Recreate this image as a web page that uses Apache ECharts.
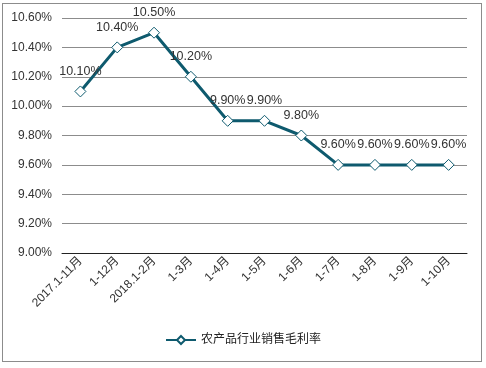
<!DOCTYPE html>
<html><head><meta charset="utf-8">
<script src="https://cdn.jsdelivr.net/npm/echarts@6/dist/echarts.min.js"></script>
<style>html,body{margin:0;padding:0;background:#fff;}#frame{position:absolute;left:2px;top:3px;width:478px;height:357px;border:1px solid #8c8c8c;}#c{position:absolute;left:0;top:0;width:486px;height:368px;}</style>
</head><body><div id="frame"></div><div id="c"></div>
<script>
const categories = ['2017.1-11月','1-12月','2018.1-2月','1-3月','1-4月','1-5月','1-6月','1-7月','1-8月','1-9月','1-10月'];
const seriesName = '农产品行业销售毛利率';
const values = [10.10, 10.40, 10.50, 10.20, 9.90, 9.90, 9.80, 9.60, 9.60, 9.60, 9.60];
const yMin = 9.0, yMax = 10.6, yStep = 0.2;

const chart = echarts.init(document.getElementById('c'), null, {renderer:'canvas'});
const font = 'Arial, "Liberation Sans", "Noto Sans CJK SC", sans-serif';
chart.setOption({
  animation:false,
  backgroundColor:'transparent',
  grid:{left:62, right:19, top:18, bottom:115, containLabel:false},
  legend:{
    data:[seriesName],
    bottom:17, left:'center',
    itemWidth:30, itemHeight:10,
    textStyle:{fontFamily:font, fontSize:12, color:'#222'}
  },
  xAxis:{
    type:'category', data:categories, boundaryGap:true,
    axisLine:{lineStyle:{color:'#222', width:1}},
    axisTick:{show:false},
    axisLabel:{rotate:45, fontFamily:font, fontSize:12, color:'#333', margin:6, interval:0}
  },
  yAxis:{
    type:'value', min:yMin, max:yMax, interval:yStep,
    axisLine:{show:false}, axisTick:{show:false},
    splitLine:{lineStyle:{color:'#8c8c8c', width:1}},
    axisLabel:{fontFamily:font, fontSize:12, color:'#333', margin:10,
      formatter:v=>v.toFixed(2)+'%'}
  },
  series:[{
    name:seriesName, type:'line', data:values,
    symbol:'diamond', symbolSize:11, showAllSymbol:true,
    lineStyle:{color:'#0e5a6e', width:3},
    itemStyle:{color:'#fff', borderColor:'#0e5a6e', borderWidth:1},
    label:{show:true, position:'top', distance:8, fontFamily:font, fontSize:12.5, color:'#333',
      formatter:p=>p.value.toFixed(2)+'%'}
  }]
});
</script></body></html>
